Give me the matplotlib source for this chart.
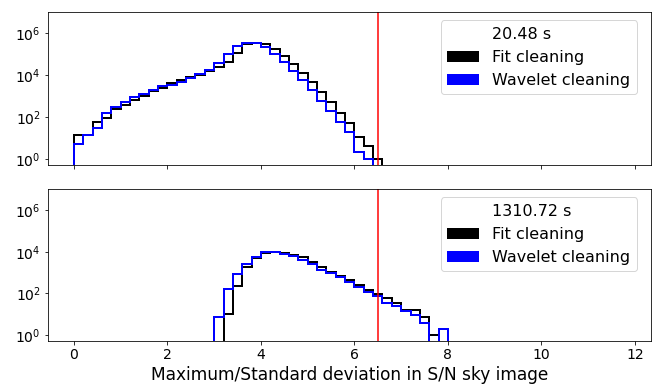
import numpy as np
import matplotlib
matplotlib.use("Agg")
import matplotlib.pyplot as plt
from matplotlib.patches import Patch

# histogram bin width of the S/N maximum / std values
bin_width = 0.2

# 20.48 s integration
short_label = "20.48 s"
short_fit_start = 0.0
short_fit_counts = [13, 13, 55, 93, 240, 380, 630, 1050, 1660, 2400,
                    4000, 5800, 8000, 10500, 16500, 25000, 43000, 115000, 290000, 345000,
                    290000, 180000, 80000, 35000, 12600, 4500, 1550, 510, 150, 51,
                    11, 4, 1]
short_wav_start = 0.0
short_wav_counts = [5, 13, 29, 155, 300, 500, 850, 1230, 1900, 3000,
                    3300, 4800, 7000, 11000, 17500, 37000, 98000, 250000, 350000, 350000,
                    225000, 107000, 42000, 16000, 5600, 2000, 600, 186, 56, 19,
                    2, 1]

# 1310.72 s integration
long_label = "1310.72 s"
long_fit_start = 3.2
long_fit_counts = [10, 230, 1800, 5200, 8700, 9300, 8700, 7200, 5400, 3200,
                   1900, 1100, 700, 440, 250, 150, 90, 58, 35, 16,
                   16, 7, 1]
long_wav_start = 3.0
long_wav_counts = [7, 160, 900, 2700, 5600, 9300, 9300, 8100, 6000, 3900,
                   2500, 1400, 950, 590, 350, 200, 120, 72, 35, 26,
                   15, 9, 4, 0, 2]

threshold = 6.5
xticks = [0, 2, 4, 6, 8, 10, 12]
yticks = [1, 1e2, 1e4, 1e6]


def bin_edges(start, counts):
    return start + bin_width * np.arange(len(counts) + 1)


def draw_panel(ax, label, fit_start, fit_counts, wav_start, wav_counts):
    ax.stairs(fit_counts, bin_edges(fit_start, fit_counts), color="black", lw=2, baseline=0)
    ax.stairs(wav_counts, bin_edges(wav_start, wav_counts), color="blue", lw=2, baseline=0)
    ax.axvline(threshold, color="red", lw=1.5)
    ax.set_yscale("log")
    ax.set_ylim(0.5, 1e7)
    ax.set_yticks(yticks)
    ax.yaxis.set_minor_locator(matplotlib.ticker.NullLocator())
    ax.set_xlim(-0.56, 12.34)
    ax.set_xticks(xticks)
    ax.tick_params(labelsize=14)
    handles = [Patch(facecolor="none", edgecolor="none", label=label),
               Patch(facecolor="black", label="Fit cleaning"),
               Patch(facecolor="blue", label="Wavelet cleaning")]
    ax.legend(handles=handles, loc="upper right", bbox_to_anchor=(0.99, 1.0), fontsize=16)


fig = plt.figure(figsize=(652 / 72, 385 / 72), dpi=72)
ax1 = fig.add_axes([0.0732, 0.5714, 0.925, 0.3966])
ax2 = fig.add_axes([0.0732, 0.1135, 0.925, 0.3948])

draw_panel(ax1, short_label, short_fit_start, short_fit_counts, short_wav_start, short_wav_counts)
draw_panel(ax2, long_label, long_fit_start, long_fit_counts, long_wav_start, long_wav_counts)
ax1.tick_params(labelbottom=False)
ax2.set_xlabel("Maximum/Standard deviation in S/N sky image", fontsize=17)

fig.savefig("out.png", dpi=72)
